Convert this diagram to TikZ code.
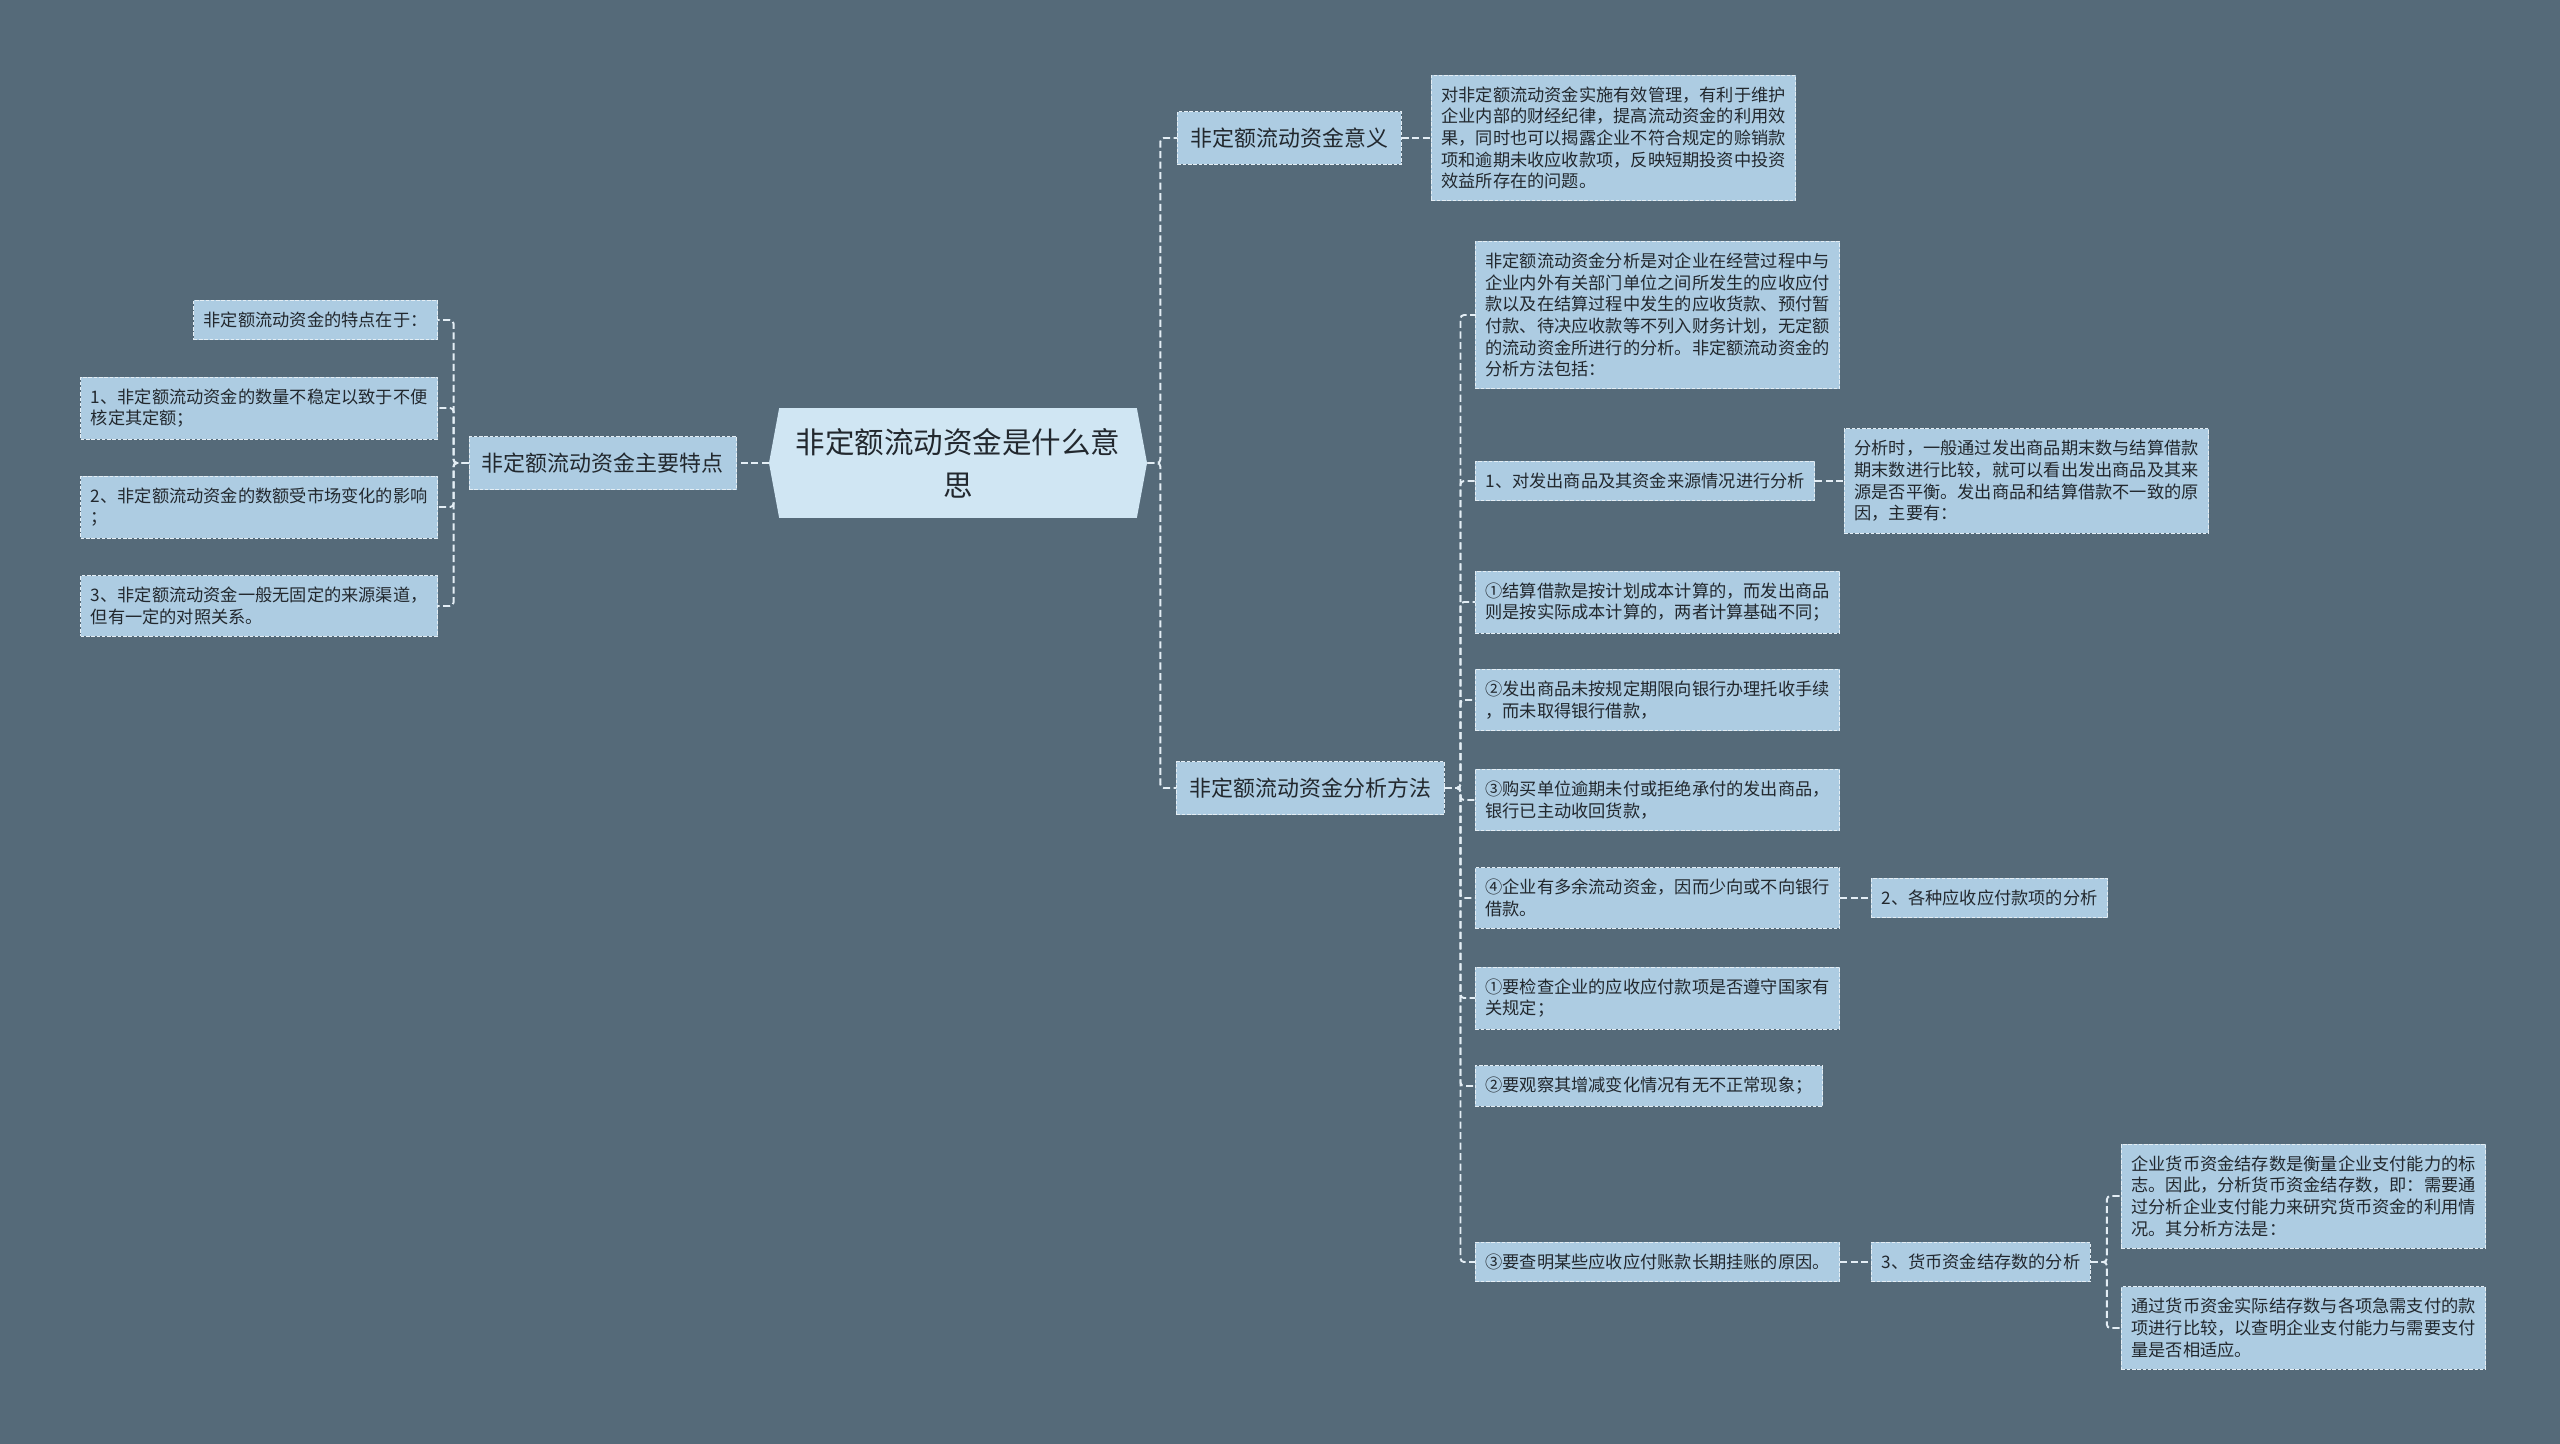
\documentclass[tikz,border=0pt]{standalone}
\usepackage{fontspec}
\newfontfamily\cjk{Noto Sans CJK SC}
\usetikzlibrary{shapes.symbols}
\definecolor{slate}{RGB}{85,106,121}
\definecolor{leaf}{RGB}{173,204,226}
\definecolor{hubfill}{RGB}{208,230,243}
\definecolor{ink}{RGB}{34,40,46}
\definecolor{wire}{RGB}{228,238,245}

\begin{document}
\begin{tikzpicture}[x={(0.02cm,0)},y={(0,-0.02cm)},
	box/.style={draw=wire,dash pattern=on 2pt off 1pt,line width=0.5pt,fill=leaf,text=ink,align=left,inner xsep=0.2cm,inner ysep=0.23cm,font=\cjk\fontsize{9.8pt}{12.3pt}\selectfont},
	branch/.style={box,inner xsep=0.26cm,minimum height=1.06cm,font=\cjk\fontsize{12.5pt}{15pt}\selectfont},
	hub/.style={signal,signal to=east and west,signal pointer angle=159,fill=hubfill,text=ink,align=center,inner xsep=0.33cm,minimum height=2.2cm,font=\cjk\fontsize{16.8pt}{24.5pt}\selectfont},
	link/.style={draw=wire,line width=1.1pt,dash pattern=on 4pt off 2pt,rounded corners=2pt}]
	\useasboundingbox[fill=slate] (0,0) rectangle (2560,1444);
	\node[hub] (root) at (958,463) {非定额流动资金是什么意\\思};
	\node[branch,anchor=east] (trait) at (737,463) {非定额流动资金主要特点};
	\node[box,anchor=east] (trait0) at (438,320) {非定额流动资金的特点在于：};
	\node[box,anchor=east] (trait1) at (438,408) {1、非定额流动资金的数量不稳定以致于不便\\核定其定额；};
	\node[box,anchor=east] (trait2) at (438,507) {2、非定额流动资金的数额受市场变化的影响\\；};
	\node[box,anchor=east] (trait3) at (438,606) {3、非定额流动资金一般无固定的来源渠道，\\但有一定的对照关系。};
	\node[branch,anchor=west] (mean) at (1177,138) {非定额流动资金意义};
	\node[box,anchor=west] (meantext) at (1431,138) {对非定额流动资金实施有效管理，有利于维护\\企业内部的财经纪律，提高流动资金的利用效\\果，同时也可以揭露企业不符合规定的赊销款\\项和逾期未收应收款项，反映短期投资中投资\\效益所存在的问题。};
	\node[branch,anchor=west] (method) at (1176,788) {非定额流动资金分析方法};
	\node[box,anchor=west] (intro) at (1475,315) {非定额流动资金分析是对企业在经营过程中与\\企业内外有关部门单位之间所发生的应收应付\\款以及在结算过程中发生的应收货款、预付暂\\付款、待决应收款等不列入财务计划，无定额\\的流动资金所进行的分析。非定额流动资金的\\分析方法包括：};
	\node[box,anchor=west] (goods) at (1475,481) {1、对发出商品及其资金来源情况进行分析};
	\node[box,anchor=west] (goodstext) at (1844,481) {分析时，一般通过发出商品期末数与结算借款\\期末数进行比较，就可以看出发出商品及其来\\源是否平衡。发出商品和结算借款不一致的原\\因，主要有：};
	\node[box,anchor=west] (cause1) at (1475,602) {①结算借款是按计划成本计算的，而发出商品\\则是按实际成本计算的，两者计算基础不同；};
	\node[box,anchor=west] (cause2) at (1475,700) {②发出商品未按规定期限向银行办理托收手续\\，而未取得银行借款，};
	\node[box,anchor=west] (cause3) at (1475,800) {③购买单位逾期未付或拒绝承付的发出商品，\\银行已主动收回货款，};
	\node[box,anchor=west] (cause4) at (1475,898) {④企业有多余流动资金，因而少向或不向银行\\借款。};
	\node[box,anchor=west] (recv) at (1871,898) {2、各种应收应付款项的分析};
	\node[box,anchor=west] (check1) at (1475,998) {①要检查企业的应收应付款项是否遵守国家有\\关规定；};
	\node[box,anchor=west] (check2) at (1475,1086) {②要观察其增减变化情况有无不正常现象；};
	\node[box,anchor=west] (check3) at (1475,1262) {③要查明某些应收应付账款长期挂账的原因。};
	\node[box,anchor=west] (cash) at (1871,1262) {3、货币资金结存数的分析};
	\node[box,anchor=west] (cash1) at (2121,1196) {企业货币资金结存数是衡量企业支付能力的标\\志。因此，分析货币资金结存数，即：需要通\\过分析企业支付能力来研究货币资金的利用情\\况。其分析方法是：};
	\node[box,anchor=west] (cash2) at (2121,1328) {通过货币资金实际结存数与各项急需支付的款\\项进行比较，以查明企业支付能力与需要支付\\量是否相适应。};
	\draw[link] (root.west) -- (trait.east);
	\foreach \n in {trait0,trait1,trait2,trait3}
		\draw[link] (trait.west) -- +(-15,0) |- (\n.east);
	\foreach \n in {mean,method}
		\draw[link] (root.east) -- +(13,0) |- (\n.west);
	\draw[link] (mean.east) -- (meantext.west);
	\foreach \n in {intro,goods,cause1,cause2,cause3,cause4,check1,check2,check3}
		\draw[link] (method.east) -- +(16,0) |- (\n.west);
	\draw[link] (goods.east) -- (goodstext.west);
	\draw[link] (cause4.east) -- (recv.west);
	\draw[link] (check3.east) -- (cash.west);
	\foreach \n in {cash1,cash2}
		\draw[link] (cash.east) -- +(16,0) |- (\n.west);
\end{tikzpicture}
\end{document}
